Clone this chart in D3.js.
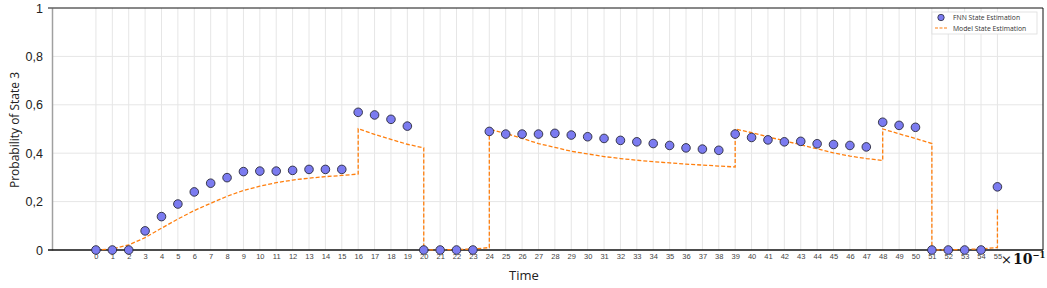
<!DOCTYPE html>
<html>
  <head>
    <meta charset="utf-8">
    <script src="https://d3js.org/d3.v7.min.js"></script>
    <style>
    body { margin: 0; background: #fff; }
    svg { font-family: "Open Sans", "DejaVu Sans", sans-serif; }
    .grid line { stroke: #e6e6e6; stroke-width: 1; }
    </style>
  </head>
  <body>
    <script>

    // FNN estimate, one value per time step 0..55
    var fnnTime = d3.range(0, 56);
    var fnnValue = [0, 0, 0, 0.079, 0.138, 0.19, 0.24, 0.276, 0.299, 0.324,
                    0.326, 0.326, 0.329, 0.333, 0.333, 0.333, 0.569, 0.558, 0.54, 0.512,
                    0, 0, 0, 0, 0.49, 0.479, 0.479, 0.479, 0.482, 0.475,
                    0.468, 0.461, 0.453, 0.447, 0.44, 0.432, 0.422, 0.417, 0.412, 0.479,
                    0.465, 0.455, 0.447, 0.449, 0.439, 0.436, 0.432, 0.426, 0.528, 0.515,
                    0.507, 0, 0, 0, 0, 0.261];

    // model estimate (repeated time = jump)
    var modelTime = [0, 1, 2, 3, 4, 5, 6, 7, 8, 9, 10, 11, 12, 13, 14, 15, 16, 16, 17, 18, 19, 20, 20,
                     21, 22, 23, 24, 24, 25, 26, 27, 28, 29, 30, 31, 32, 33, 34, 35, 36, 37, 38, 39, 39,
                     40, 41, 42, 43, 44, 45, 46, 47, 48, 48, 49, 50, 51, 51, 52, 53, 54, 55, 55];
    var modelValue = [0, 0.004, 0.021, 0.051, 0.09, 0.128, 0.163, 0.193, 0.222, 0.246, 0.264, 0.278,
                      0.289, 0.297, 0.303, 0.308, 0.314, 0.501, 0.478, 0.457, 0.437, 0.422, 0,
                      0.001, 0.002, 0.004, 0.01, 0.499, 0.482, 0.461, 0.44, 0.424, 0.408, 0.397,
                      0.386, 0.378, 0.371, 0.365, 0.36, 0.355, 0.351, 0.347, 0.343, 0.5,
                      0.485, 0.468, 0.451, 0.435, 0.418, 0.401, 0.388, 0.378, 0.37, 0.5, 0.48,
                      0.461, 0.44, 0, 0.001, 0.002, 0.005, 0.01, 0.176];

    var yTicks = [0, 0.2, 0.4, 0.6, 0.8, 1];

    var W = 1047, H = 288;
    var x = d3.scaleLinear().domain([-2.68, 57.78]).range([52, 1043]);
    var y = d3.scaleLinear().domain([0, 1]).range([250, 8]);

    var svg = d3.select("body").append("svg")
        .attr("width", W)
        .attr("height", H);

    // grid
    svg.append("g").attr("class", "grid")
      .selectAll("line").data(fnnTime).enter().append("line")
        .attr("x1", function(d) { return x(d); })
        .attr("x2", function(d) { return x(d); })
        .attr("y1", y(1))
        .attr("y2", y(0));
    svg.append("g").attr("class", "grid")
      .selectAll("line").data(yTicks.slice(1, 5)).enter().append("line")
        .attr("x1", x.range()[0])
        .attr("x2", x.range()[1])
        .attr("y1", function(d) { return y(d); })
        .attr("y2", function(d) { return y(d); });

    // x axis
    var xAxis = d3.axisBottom(x).tickValues(fnnTime).tickSize(0).tickPadding(4);
    var gx = svg.append("g")
        .attr("transform", "translate(0," + y(0) + ")")
        .call(xAxis);
    gx.select(".domain").remove();
    gx.selectAll("text").style("font-size", "7.5px").style("fill", "#444");

    // y axis
    var yAxis = d3.axisLeft(y).tickValues(yTicks).tickSize(0).tickPadding(9)
        .tickFormat(function(d) { return String(d).replace(".", ","); });
    var gy = svg.append("g")
        .attr("transform", "translate(" + x.range()[0] + ",0)")
        .call(yAxis);
    gy.select(".domain").attr("stroke", "#a0a0a0").attr("stroke-width", 1.5);
    gy.selectAll("text").style("font-size", "12.5px").style("fill", "#222");

    // frame
    svg.append("line").attr("x1", 48).attr("x2", x.range()[1])
        .attr("y1", y(1)).attr("y2", y(1)).attr("stroke", "#111");
    svg.append("line").attr("x1", 48).attr("x2", x.range()[1])
        .attr("y1", y(0)).attr("y2", y(0)).attr("stroke", "#111").attr("stroke-width", 1.3);
    svg.append("line").attr("x1", x.range()[1]).attr("x2", x.range()[1])
        .attr("y1", y(1)).attr("y2", y(0)).attr("stroke", "#111");

    // model line
    var line = d3.line()
        .x(function(d, i) { return x(modelTime[i]); })
        .y(function(d) { return y(d); });
    svg.append("path")
        .datum(modelValue)
        .attr("d", line)
        .attr("fill", "none")
        .attr("stroke", "#ff7f0e")
        .attr("stroke-width", 1.3)
        .attr("stroke-dasharray", "4,2");

    // FNN points
    svg.selectAll(".dot")
        .data(fnnValue)
        .enter().append("circle")
        .attr("class", "dot")
        .attr("cx", function(d, i) { return x(fnnTime[i]); })
        .attr("cy", function(d) { return y(d); })
        .attr("r", 4.3)
        .attr("fill", "#7b7bf0")
        .attr("stroke", "#2a2a3a")
        .attr("stroke-width", 0.9);

    // legend
    var lg = svg.append("g").attr("transform", "translate(932,12)");
    lg.append("rect").attr("width", 105).attr("height", 22)
        .attr("fill", "#fff").attr("stroke", "#ddd").attr("stroke-width", 0.8);
    lg.append("circle").attr("cx", 9).attr("cy", 5.5).attr("r", 3.2)
        .attr("fill", "#7b7bf0").attr("stroke", "#2a2a3a").attr("stroke-width", 0.8);
    lg.append("line").attr("x1", 3).attr("x2", 16).attr("y1", 16).attr("y2", 16)
        .attr("stroke", "#ff7f0e").attr("stroke-width", 1.2).attr("stroke-dasharray", "3,1.5");
    lg.append("text").attr("x", 21).attr("y", 8).text("FNN State Estimation")
        .style("font-size", "6.8px").style("fill", "#333");
    lg.append("text").attr("x", 21).attr("y", 18.5).text("Model State Estimation")
        .style("font-size", "6.8px").style("fill", "#333");

    // axis titles
    svg.append("text")
        .attr("x", 524).attr("y", 280)
        .attr("text-anchor", "middle")
        .style("font-size", "13px").style("fill", "#222")
        .text("Time");
    svg.append("text")
        .attr("transform", "rotate(-90)")
        .attr("x", -130).attr("y", 19)
        .attr("text-anchor", "middle")
        .style("font-size", "12px").style("fill", "#222")
        .text("Probability of State 3");

    // scale factor
    var sf = svg.append("text").attr("x", 1001).attr("y", 264)
        .style("font-family", "DejaVu Serif, Liberation Serif, serif")
        .style("fill", "#111");
    sf.append("tspan").text("×").style("font-size", "13px");
    sf.append("tspan").text("10").style("font-size", "14px").style("font-weight", "bold").attr("dx", 1);
    sf.append("tspan").text("−1").style("font-size", "8.5px").style("font-weight", "bold").attr("dy", -6);

    </script>
  </body>
</html>
